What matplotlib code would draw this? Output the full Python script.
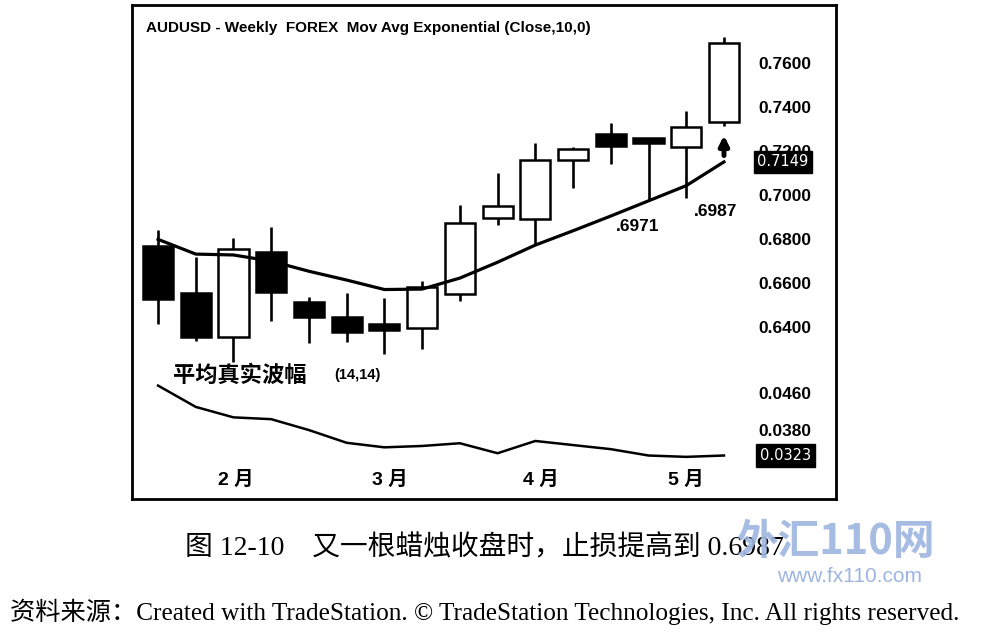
import matplotlib
matplotlib.use('Agg')
import matplotlib.pyplot as plt
from matplotlib.transforms import blended_transform_factory

# weekly AUDUSD candles
opens = [0.6767, 0.6555, 0.6353, 0.6740, 0.6514, 0.6445, 0.6411, 0.6393,
         0.6549, 0.6893, 0.6888, 0.7158, 0.7276, 0.7256, 0.7218, 0.7332]
highs = [0.6840, 0.6718, 0.6802, 0.6852, 0.6536, 0.6552, 0.6529, 0.6609,
         0.6953, 0.7100, 0.7236, 0.7215, 0.7327, 0.7256, 0.7382, 0.7715]
lows = [0.6412, 0.6336, 0.6240, 0.6427, 0.6327, 0.6332, 0.6276, 0.6297,
        0.6518, 0.6862, 0.6771, 0.7029, 0.7140, 0.6971, 0.6987, 0.7312]
closes = [0.6527, 0.6353, 0.6755, 0.6558, 0.6443, 0.6377, 0.6385, 0.6582,
          0.6870, 0.6949, 0.7158, 0.7206, 0.7221, 0.7234, 0.7306, 0.7691]
ema10 = [0.6797, 0.6730, 0.6726, 0.6698, 0.6652, 0.6612, 0.6569, 0.6571,
         0.6621, 0.6693, 0.6771, 0.6836, 0.6903, 0.6972, 0.7041, 0.7149]
atr14 = [0.0477, 0.0430, 0.0407, 0.0403, 0.0379, 0.0351, 0.0341, 0.0344,
         0.0350, 0.0328, 0.0355, 0.0346, 0.0337, 0.0323, 0.0320, 0.0323]
price_ticks = [0.64, 0.66, 0.68, 0.70, 0.72, 0.74, 0.76]
atr_ticks = [0.046, 0.038]
month_pos = [2.07, 6.15, 10.15, 14.0]
month_labels = ['2 月', '3 月', '4 月', '5 月']

W, H = 986, 637


def box(l, t, r, b):
    # pixel box -> figure fraction
    return [l / W, 1 - b / H, (r - l) / W, (b - t) / H]


fig = plt.figure(figsize=(W / 100, H / 100), dpi=100)

frame = fig.add_axes(box(132, 5, 836, 499))
frame.set_xticks([])
frame.set_yticks([])
for s in frame.spines.values():
    s.set_linewidth(2)

ax1 = fig.add_axes(box(132, 5, 750, 365))
ax2 = fig.add_axes(box(132, 365, 750, 465))
for ax in (ax1, ax2):
    ax.patch.set_visible(False)
    for s in ax.spines.values():
        s.set_visible(False)
    ax.set_xlim(-0.69, 15.69)

x = list(range(len(opens)))
tick_font = dict(family=['Liberation Sans', 'DejaVu Sans'], weight='bold', size=12.5)

# candles
ax1.vlines(x, lows, highs, color='black', lw=1.9, zorder=1)
bottoms = [min(o, c) for o, c in zip(opens, closes)]
heights = [abs(c - o) for o, c in zip(opens, closes)]
faces = ['white' if c > o else 'black' for o, c in zip(opens, closes)]
ax1.bar(x, heights, bottom=bottoms, width=0.8, color=faces, edgecolor='black',
        linewidth=1.8, zorder=2)
ax1.plot(x, ema10, color='black', lw=2.3, zorder=3)
ax1.set_ylim(0.6226, 0.7862)
ax1.set_xticks([])
ax1.yaxis.tick_right()
ax1.set_yticks(price_ticks)
ax1.set_yticklabels([f'{t:.4f}' for t in price_ticks])
ax1.tick_params(axis='y', length=0, pad=6)
for lb in ax1.get_yticklabels():
    lb.set(**tick_font)

ax1.annotate('', xy=(15, 0.7282), xytext=(15, 0.7165),
             arrowprops=dict(arrowstyle='-|>', lw=3.5, color='black', mutation_scale=14))

ax1.annotate(f'{lows[13]:.4f}'[1:], xy=(13, lows[13]), xytext=(-8, -18),
             textcoords='offset points', ha='center', va='center', **tick_font)
ax1.annotate(f'{lows[14]:.4f}'[1:], xy=(14, lows[14]), xytext=(21, -10),
             textcoords='offset points', ha='center', va='center', **tick_font)

ax1.text(0.023, 0.936, 'AUDUSD - Weekly  FOREX  Mov Avg Exponential (Close,10,0)',
         transform=ax1.transAxes, ha='left', va='center',
         family=['Liberation Sans', 'DejaVu Sans'], weight='bold', size=11)

tr1 = blended_transform_factory(ax1.transAxes, ax1.transData)
ax1.text(1.012, ema10[-1], f'{ema10[-1]:.4f}', transform=tr1, ha='left', va='center',
         color='white', size=10.5, family='DejaVu Sans', clip_on=False, zorder=5,
         bbox=dict(boxstyle='square,pad=0.25', fc='black', ec='black'))

# average true range
ax2.plot(x, atr14, color='black', lw=1.8)
ax2.set_ylim(0.03021, 0.05223)
ax2.yaxis.tick_right()
ax2.set_yticks(atr_ticks)
ax2.set_yticklabels([f'{t:.4f}' for t in atr_ticks])
ax2.tick_params(axis='y', length=0, pad=6)
for lb in ax2.get_yticklabels():
    lb.set(**tick_font)
ax2.set_xticks(month_pos)
ax2.set_xticklabels(month_labels)
ax2.tick_params(axis='x', length=0, pad=4)
for lb in ax2.get_xticklabels():
    lb.set(family=['Liberation Sans', 'Noto Sans CJK SC'], weight='bold', size=14)

tr2 = blended_transform_factory(ax2.transAxes, ax2.transData)
ax2.text(1.016, atr14[-1], f'{atr14[-1]:.4f}', transform=tr2, ha='left', va='center',
         color='white', size=10.5, family='DejaVu Sans', clip_on=False, zorder=5,
         bbox=dict(boxstyle='square,pad=0.25', fc='black', ec='black'))

ax2.text(0.066, 0.9, '平均真实波幅', transform=ax2.transAxes, ha='left', va='center',
         family=['Noto Sans CJK SC'], weight='bold', size=16)
ax2.text(0.328, 0.9, '(14,14)', transform=ax2.transAxes, ha='left', va='center',
         family=['Liberation Sans', 'DejaVu Sans'], weight='bold', size=10.5)

# caption and source
fig.text(185 / W, 1 - 548 / H, '图 12-10　又一根蜡烛收盘时，止损提高到 0.6987',
         ha='left', va='center', family=['Liberation Serif', 'Noto Sans CJK SC'], size=20)
fig.text(10 / W, 1 - 612 / H,
         '资料来源：Created with TradeStation. © TradeStation Technologies, Inc. All rights reserved.',
         ha='left', va='center', family=['Liberation Serif', 'Noto Sans CJK SC'], size=18.2)

# watermark
fig.text(835 / W, 1 - 542 / H, '外汇110网', ha='center', va='center', color='#9db5e0',
         family=['Noto Sans CJK SC'], weight='bold', style='italic', size=30, alpha=0.9)
fig.text(850 / W, 1 - 577 / H, 'www.fx110.com', ha='center', va='center', color='#9db5e0',
         family='Liberation Sans', size=15)

fig.savefig('out.png', dpi=100)
